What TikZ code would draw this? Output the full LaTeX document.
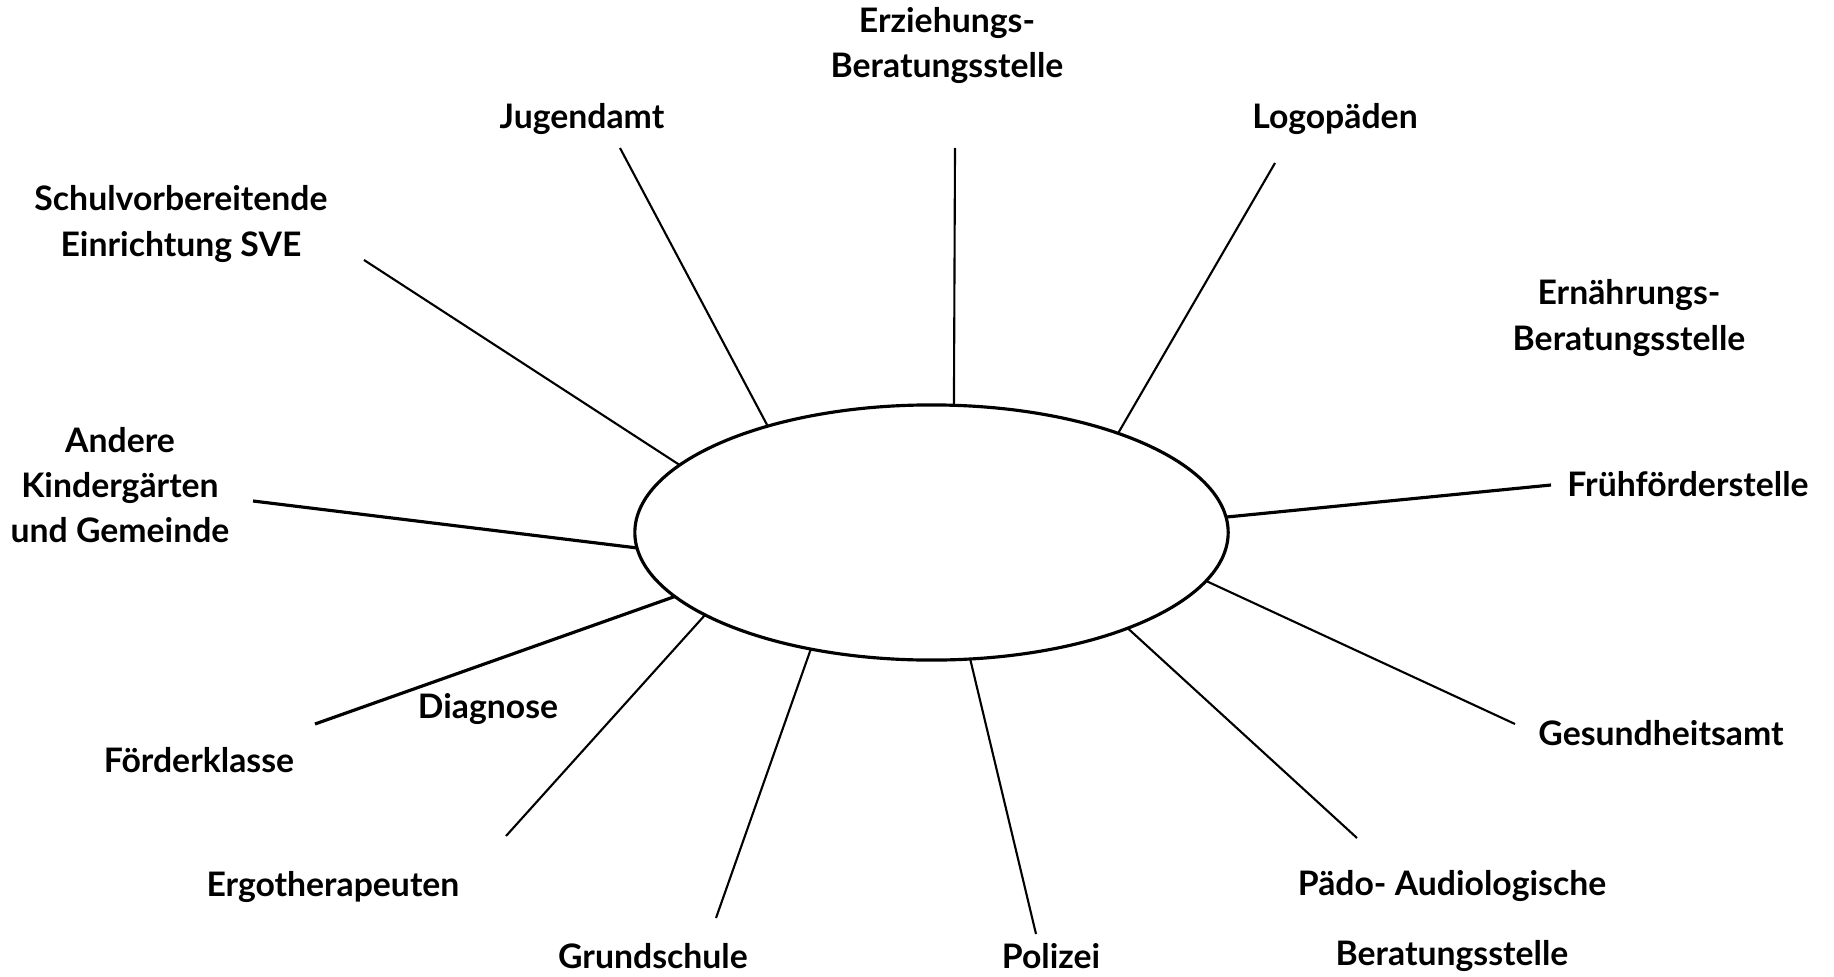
\documentclass[tikz,border=0pt]{standalone}
\usepackage{fontspec}
\setmainfont{Lato}
\usetikzlibrary{shapes.geometric}

\begin{document}
\begin{tikzpicture}[x=0.01cm, y=-0.01cm,
    lbl/.style={font=\bfseries\fontsize{9.6}{12.8}\selectfont, align=center, inner sep=0pt},
    spoke/.style={line width=0.6pt},
    thickspoke/.style={line width=0.9pt},
    hub/.style={draw, ellipse, line width=0.9pt, minimum width=5.93cm, minimum height=2.55cm, inner sep=0pt, outer sep=0pt}]

	\useasboundingbox (0,0) rectangle (1834,976);

	%%%%% START %%%%%

	\node[hub] (hub) at (931.5,532.5) {};

	\node[lbl] (erz) at (947,46) {Erziehungs-\\Beratungsstelle};
	\node[lbl] (jug) at (582,119) {Jugendamt};
	\node[lbl] (logo) at (1335,119) {Logopäden};
	\node[lbl] (sve) at (181,224) {Schulvorbereitende\\Einrichtung SVE};
	\node[lbl] (ern) at (1629,318) {Ernährungs-\\Beratungsstelle};
	\node[lbl] (and) at (120,485) {Andere\\Kindergärten\\und Gemeinde};
	\node[lbl] (fruh) at (1688,484) {Frühförderstelle};
	\node[lbl] (diag) at (488,709) {Diagnose};
	\node[lbl] (foerd) at (199,760) {Förderklasse};
	\node[lbl] (ges) at (1661,733) {Gesundheitsamt};
	\node[lbl] (ergo) at (333,887) {Ergotherapeuten};
	\node[lbl] (paedo) at (1452,921) {Pädo- Audiologische\\[0.24cm]Beratungsstelle};
	\node[lbl] (grund) at (653,956) {Grundschule};
	\node[lbl] (pol) at (1051,956) {Polizei};

	% free ends of the spokes
	\coordinate (erzEnd) at (955,148);
	\coordinate (jugEnd) at (620,148);
	\coordinate (logoEnd) at (1275,163);
	\coordinate (sveEnd) at (364,260);
	\coordinate (andEnd) at (253,501);
	\coordinate (fruhEnd) at (1551,485);
	\coordinate (foerdEnd) at (315,724);
	\coordinate (ergoEnd) at (506,836);
	\coordinate (grundEnd) at (716,918);
	\coordinate (polEnd) at (1036,934);
	\coordinate (paedoEnd) at (1357,838);
	\coordinate (gesEnd) at (1515,724);

	\draw[spoke] (hub.80) -- (erzEnd);
	\draw[spoke] (hub.147) -- (jugEnd);
	\draw[spoke] (hub.28) -- (logoEnd);
	\draw[spoke] (hub.165) -- (sveEnd);
	\draw[thickspoke] (hub.183) -- (andEnd);
	\draw[thickspoke] (hub.3) -- (fruhEnd);
	\draw[thickspoke] (hub.194) -- (foerdEnd);
	\draw[spoke] (hub.200) -- (ergoEnd);
	\draw[spoke] (hub.224) -- (grundEnd);
	\draw[spoke] (hub.287) -- (polEnd);
	\draw[spoke] (hub.334) -- (paedoEnd);
	\draw[spoke] (hub.350) -- (gesEnd);

	%%%%% END %%%%%
\end{tikzpicture}
\end{document}
